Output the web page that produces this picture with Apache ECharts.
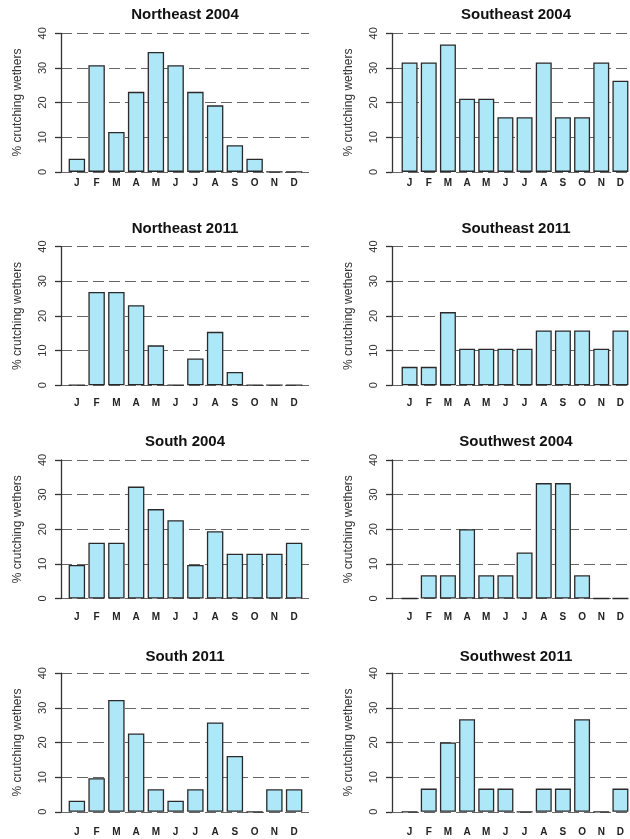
<!DOCTYPE html>
<html><head><meta charset="utf-8">
<script src="https://cdn.jsdelivr.net/npm/echarts@6/dist/echarts.min.js"></script>
<style>html,body{margin:0;padding:0;background:#fff}#c{width:630px;height:839px}</style>
</head><body><div id="c"></div>
<script>
// ---- data ----
const months = ['J','F','M','A','M','J','J','A','S','O','N','D'];
const yTicks = [0, 10, 20, 30, 40];
const titles = ['Northeast 2004','Southeast 2004','Northeast 2011','Southeast 2011',
                'South 2004','Southwest 2004','South 2011','Southwest 2011'];
const northeast2004 = [3.8, 30.8, 11.5, 23.1, 34.6, 30.8, 23.1, 19.2, 7.7, 3.8, 0, 0];
const southeast2004 = [31.6, 31.6, 36.8, 21.1, 21.1, 15.8, 15.8, 31.6, 15.8, 15.8, 31.6, 26.3];
const northeast2011 = [0, 26.9, 26.9, 23.1, 11.5, 0, 7.7, 15.4, 3.8, 0, 0, 0];
const southeast2011 = [5.3, 5.3, 21.1, 10.5, 10.5, 10.5, 10.5, 15.8, 15.8, 15.8, 10.5, 15.8];
const south2004     = [9.7, 16.1, 16.1, 32.3, 25.8, 22.6, 9.7, 19.4, 12.9, 12.9, 12.9, 16.1];
const southwest2004 = [0, 6.7, 6.7, 20.0, 6.7, 6.7, 13.3, 33.3, 33.3, 6.7, 0, 0];
const south2011     = [3.2, 9.7, 32.3, 22.6, 6.5, 3.2, 6.5, 25.8, 16.1, 0, 6.5, 6.5];
const southwest2011 = [0, 6.7, 20.0, 26.7, 6.7, 6.7, 0, 6.7, 6.7, 26.7, 0, 6.7];
const yName = '% crutching wethers';

const seriesValues = [northeast2004, southeast2004, northeast2011, southeast2011,
                      south2004, southwest2004, south2011, southwest2011];

// ---- layout ----
const colAxisX = [61, 392];
const colBandX = [67, 400];
const plotW = 248;
const pitch = 19.75;
const rowTop = [33.3, 246.6, 459.9, 673.2];
const plotH = 138.6;
const xLabelMargin = [6, 13, 14, 15];
const titleOffset = [18.3, 17.7, 17.7, 16.6];
const FONT = '"Liberation Sans", Arial, Helvetica, sans-serif';

const grids = [], xAxes = [], yAxes = [], series = [], titleOpts = [];
seriesValues.forEach((vals, i) => {
  const row = Math.floor(i / 2), col = i % 2;
  const top = rowTop[row];
  // grid A: y axis + dashed reference lines
  const gA = grids.length;
  grids.push({left: colAxisX[col], top: top, width: plotW, height: plotH, containLabel: false});
  xAxes.push({gridIndex: gA, type: 'value', min: 0, max: 1, show: false});
  yAxes.push({
    gridIndex: gA, type: 'value', min: yTicks[0], max: yTicks[yTicks.length - 1], interval: 10,
    name: yName, nameLocation: 'middle', nameRotate: 90, nameGap: 37,
    nameTextStyle: {fontFamily: FONT, fontSize: 12, color: '#333'},
    axisLine: {show: true, lineStyle: {color: '#333', width: 1.3}},
    axisTick: {show: true, length: 6, lineStyle: {color: '#333', width: 1.3}},
    axisLabel: {rotate: 90, margin: 13, fontFamily: FONT, fontSize: 11, color: '#333'},
    splitLine: {show: true, lineStyle: {color: '#666', width: 1.2, type: [11, 5]}}
  });
  // grid B: bars
  const gB = grids.length;
  grids.push({left: colBandX[col], top: top, width: pitch * months.length, height: plotH, containLabel: false});
  xAxes.push({
    gridIndex: gB, type: 'category', data: months, boundaryGap: true,
    axisLine: {show: false}, axisTick: {show: false},
    axisLabel: {margin: xLabelMargin[row], interval: 0, fontFamily: FONT, fontSize: 10, color: '#222', fontWeight: 'bold'}
  });
  yAxes.push({gridIndex: gB, type: 'value', min: 0, max: 40, interval: 10, show: false, splitLine: {show: false}});
  series.push({
    type: 'bar', xAxisIndex: xAxes.length - 1, yAxisIndex: yAxes.length - 1,
    data: vals, barCategoryGap: '16.7%',
    itemStyle: {color: '#AEE7F7', borderColor: '#2a2a2a', borderWidth: 1.3},
    silent: true, animation: false
  });
  titleOpts.push({
    text: titles[i], left: colAxisX[col] + plotW / 2, top: top - titleOffset[row],
    padding: 0, textAlign: 'center', textVerticalAlign: 'middle',
    textStyle: {fontFamily: FONT, fontSize: 15, fontWeight: 'bold', color: '#111'}
  });
});

const chart = echarts.init(document.getElementById('c'), null, {renderer: 'canvas'});
chart.setOption({
  backgroundColor: '#fff', animation: false,
  title: titleOpts, grid: grids, xAxis: xAxes, yAxis: yAxes, series: series
});
</script></body></html>
